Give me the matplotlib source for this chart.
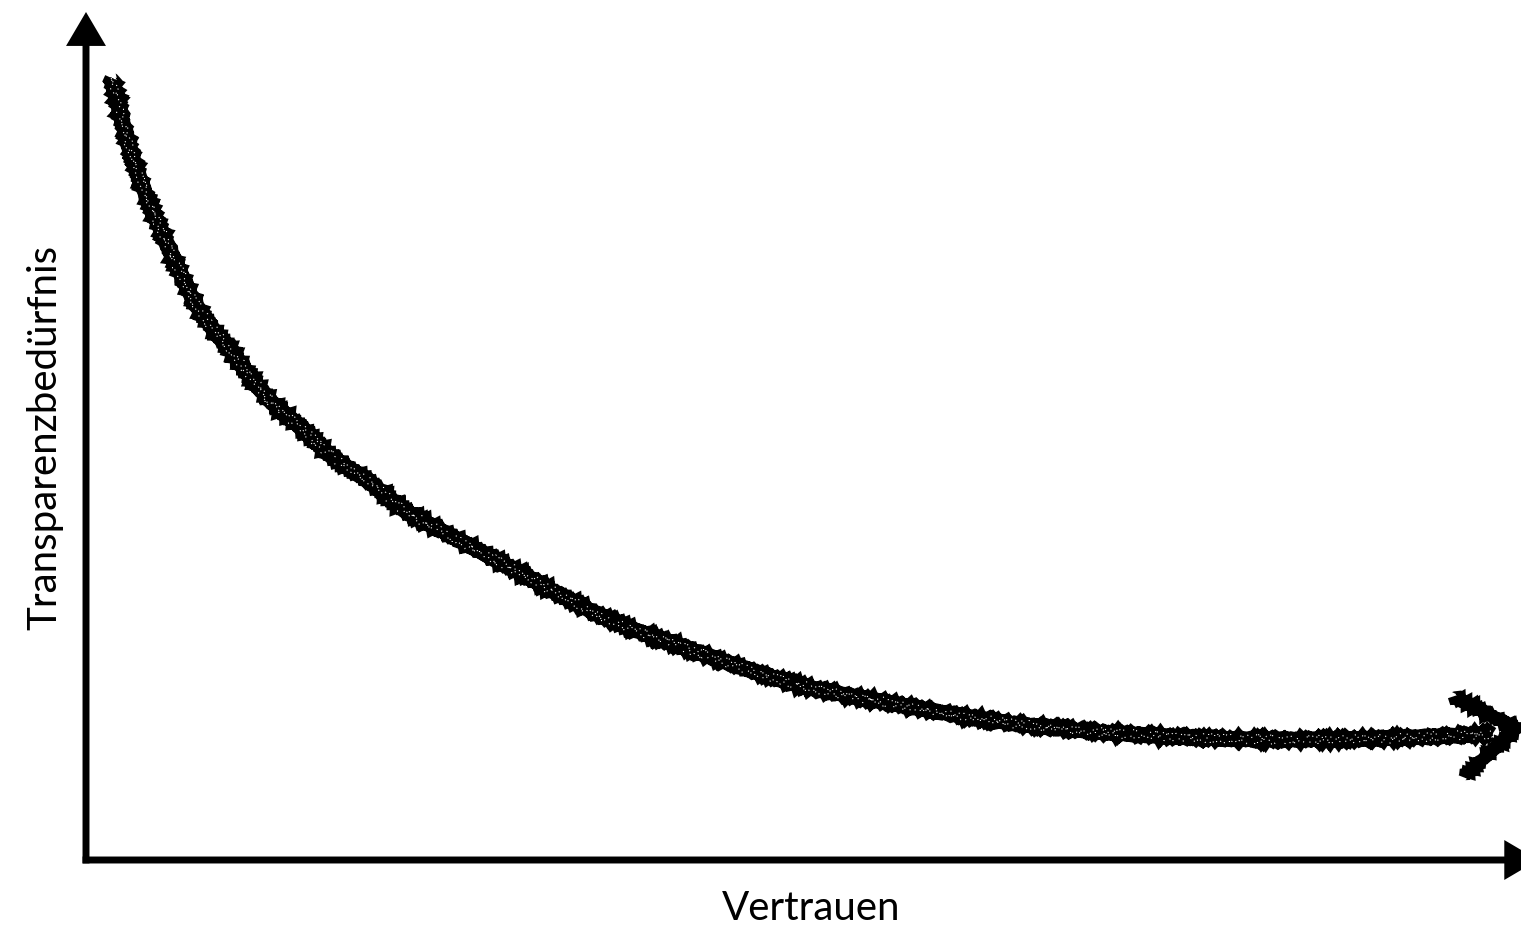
import numpy as np
import matplotlib
matplotlib.use('Agg')
import matplotlib.pyplot as plt
from matplotlib.path import Path
from matplotlib.patches import PathPatch

# ---- data (arbitrary units 0..10) ----
vertrauen = [0.18, 0.33, 0.56, 0.79, 1.02, 1.26, 1.49, 1.72, 1.96, 2.19, 2.42,
             2.77, 3.58, 4.28, 4.98, 5.67, 6.37, 7.07, 7.76, 8.46, 9.16, 9.80]
transparenz = [9.22, 8.25, 7.28, 6.49, 5.98, 5.46, 5.11, 4.75, 4.48, 4.16, 3.93,
               3.62, 2.89, 2.44, 2.06, 1.83, 1.63, 1.51, 1.44, 1.42, 1.44, 1.49]
chevron_x = [9.53, 9.97, 9.60]
chevron_y = [1.93, 1.55, 0.98]
x_label = "Vertrauen"
y_label = "Transparenzbedürfnis"

W, H = 1521, 927
fig = plt.figure(figsize=(W / 100, H / 100), dpi=100)
fig.patch.set_facecolor("white")
ax = fig.add_axes([86 / W, 67 / H, 1435 / W, 848 / H])
ax.set_xlim(0, 10)
ax.set_ylim(0, 10)
ax.axis("off")


def smooth_path(xs, ys):
    P = np.column_stack([xs, ys]).astype(float)
    verts = [P[0]]
    codes = [Path.MOVETO]
    n = len(P)
    for i in range(n - 1):
        p0 = P[i - 1] if i > 0 else P[i]
        p1, p2 = P[i], P[i + 1]
        p3 = P[i + 2] if i + 2 < n else P[i + 1]
        verts += [p1 + (p2 - p0) / 6, p2 - (p3 - p1) / 6, p2]
        codes += [Path.CURVE4] * 3
    return Path(verts, codes)


path = smooth_path(vertrauen, transparenz)

# main charcoal stroke
main = PathPatch(path, fill=False, lw=10.5, edgecolor="black", capstyle="butt")
main.set_sketch_params(scale=0.8, length=1.5, randomness=3)
ax.add_patch(main)
# fine rough texture layers along the stroke
for sc, ln, rd, lw in [(2.5, 1.0, 4, 1.8), (2.0, 0.8, 6, 1.6), (2.8, 1.2, 9, 1.4)]:
    p = PathPatch(path, fill=False, lw=lw, edgecolor="black", capstyle="butt")
    p.set_sketch_params(scale=sc, length=ln, randomness=rd)
    ax.add_patch(p)
# a few white speckles inside the stroke
spk = PathPatch(path, fill=False, lw=0.8, edgecolor="white", capstyle="butt",
                linestyle=(0, (1, 7)))
spk.set_sketch_params(scale=5, length=1, randomness=5)
ax.add_patch(spk)

# hand-drawn arrow head at the curve end
ch, = ax.plot(chevron_x, chevron_y, color="black", lw=8.5,
              solid_joinstyle="miter", solid_capstyle="butt")
ch.set_sketch_params(scale=1.0, length=1.5, randomness=3)

# axes with arrows
arrow_kw = dict(arrowstyle="-|>,head_length=0.85,head_width=0.5",
                lw=5, color="black", shrinkA=0, shrinkB=0,
                mutation_scale=20, joinstyle="miter", capstyle="butt")
ax.annotate("", xy=(0, 10.0), xytext=(0, -0.04),
            arrowprops=arrow_kw, annotation_clip=False)
ax.annotate("", xy=(10.12, 0), xytext=(-0.024, 0),
            arrowprops=arrow_kw, annotation_clip=False)

font = ["Lato", "DejaVu Sans"]
fig.text(811 / W, 1 - 908 / H, x_label, ha="center", va="center",
         fontsize=29, family=font, color="black")
fig.text(45 / W, 1 - 437 / H, y_label, ha="center", va="center",
         rotation=90, fontsize=29, family=font, color="black")

fig.savefig("out.png", dpi=100, facecolor="white")
